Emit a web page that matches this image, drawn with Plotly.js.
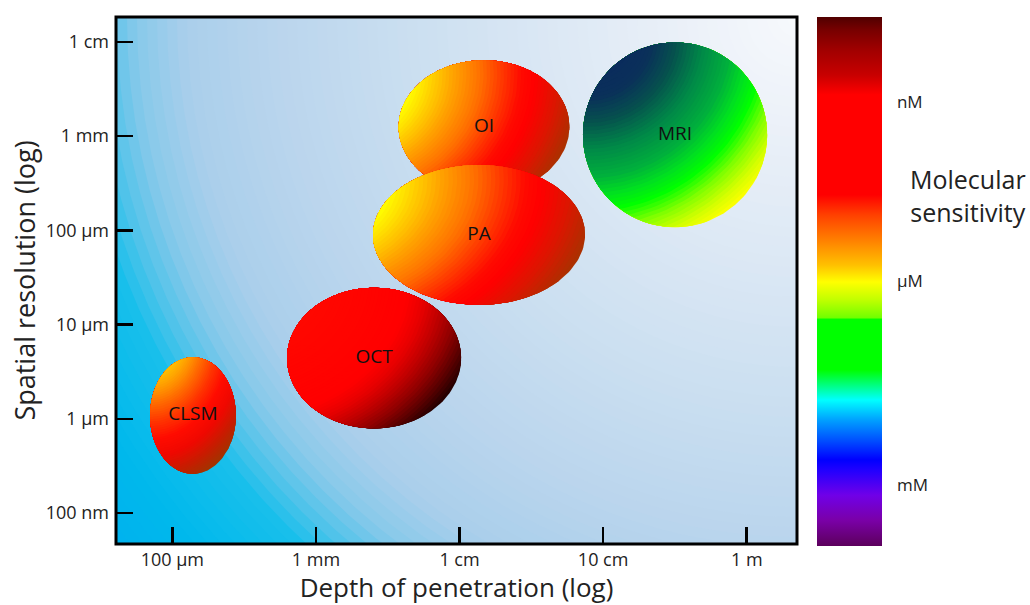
<!DOCTYPE html>
<html><head><meta charset="utf-8">
<script src="https://cdn.plot.ly/plotly-3.0.1.min.js"></script>
<style>html,body{margin:0;padding:0;background:#fff}#chart{width:1030px;height:605px}</style>
</head><body><div id="chart"></div>
<script>
// ---------------- data ----------------
const modality  = ['OI', 'PA', 'MRI', 'OCT', 'CLSM'];
// depth of penetration covered by each modality (metres)
const depthMin  = [3.77e-3, 2.50e-3, 7.24e-2, 6.30e-4, 7.00e-5];
const depthMax  = [5.83e-2, 7.48e-2, 1.387,   1.026e-2, 2.77e-4];
// spatial resolution covered by each modality (metres)
const resMin    = [2.45e-4, 1.62e-5, 1.08e-4, 7.90e-7, 2.60e-7];
const resMax    = [6.40e-3, 4.95e-4, 9.90e-3, 2.46e-5, 4.50e-6];

const depthTickVals = [1e-4, 1e-3, 1e-2, 1e-1, 1];
const depthTickText = ['100 µm', '1 mm', '1 cm', '10 cm', '1 m'];
const resTickVals   = [1e-7, 1e-6, 1e-5, 1e-4, 1e-3, 1e-2];
const resTickText   = ['100 nm', '1 µm', '10 µm', '100 µm', '1 mm', '1 cm'];

const sensLevels = [0.115, 0.5, 0.84];
const sensText   = ['mM', 'µM', 'nM'];

// ---------------- styles ----------------
const W = 1030, H = 605;
const M = {l: 116, r: 233, t: 17, b: 61};
const RX = [-4.392, 0.350], RY = [-7.329, -1.735];
const pxX = (W - M.l - M.r) / (RX[1] - RX[0]);
const pxY = (H - M.t - M.b) / (RY[1] - RY[0]);
const FONT = '"Open Sans", "DejaVu Sans", sans-serif';

const warm = [[0,'#ffff00'],[0.12,'#ffd000'],[0.25,'#ffa000'],[0.4,'#ff7000'],[0.52,'#ff3c00'],[0.64,'#ff0a00'],[0.72,'#ff0000'],[0.85,'#dd1500'],[1,'#a83200']];
const styles = {
  OI:   {f: [-2.0, 0.8], stops: warm},
  PA:   {f: [-2.0, 0.8], stops: warm},
  MRI:  {f: [-0.95, 1.1], stops: [[0,'#0a2c5c'],[0.12,'#0a305a'],[0.25,'#06504e'],[0.4,'#008848'],[0.55,'#00b03c'],[0.65,'#00e020'],[0.73,'#00ff00'],[0.83,'#80ff00'],[0.92,'#d0ff00'],[1,'#ffff00']]},
  OCT:  {f: [-1.6, 1.1], stops: [[0,'#ff0800'],[0.52,'#ff0000'],[0.62,'#e80000'],[0.72,'#c00000'],[0.82,'#900000'],[0.91,'#5a0000'],[1,'#200000']]},
  CLSM: {f: [-1.0, 1.5], stops: [[0,'#ffc000'],[0.12,'#ff9a00'],[0.25,'#ff6a00'],[0.4,'#ff3500'],[0.55,'#ff0c00'],[0.7,'#f00800'],[0.85,'#c81c00'],[1,'#a03500']]}
};
const bgStops = [[0,'#f7f9fc'],[120,'#eaf0f8'],[260,'#dae7f4'],[400,'#c9def0'],[520,'#bad5ed'],[610,'#aacfeb'],[660,'#88c9ea'],[695,'#50c3ea'],[725,'#18bfeb'],[800,'#00b9ec'],[900,'#00aeef']];

const cbScale = [[0,'#5c005c'],[0.049,'#7a00a8'],[0.096,'#7000e8'],[0.144,'#2000ff'],[0.163,'#0000ff'],[0.2,'#0050ff'],[0.238,'#00a0ff'],[0.276,'#00ffff'],[0.304,'#00ff80'],[0.333,'#00ff00'],[0.429,'#00ff00'],[0.431,'#70ff00'],[0.465,'#c0ff00'],[0.499,'#ffff00'],[0.531,'#ffc000'],[0.578,'#ff8000'],[0.626,'#ff4000'],[0.664,'#ff0000'],[0.853,'#ff0000'],[0.89,'#c80000'],[0.938,'#a00000'],[0.975,'#780000'],[1,'#500000']];

// ---------------- helpers ----------------
function hex2rgb(h){h=h.replace('#','');return [0,2,4].map(i=>parseInt(h.substr(i,2),16));}
function ramp(stops,t){
  if(t<=stops[0][0]) return 'rgb('+hex2rgb(stops[0][1]).join(',')+')';
  for(let i=1;i<stops.length;i++){
    if(t<=stops[i][0]){
      const a=hex2rgb(stops[i-1][1]), b=hex2rgb(stops[i][1]);
      const f=(t-stops[i-1][0])/(stops[i][0]-stops[i-1][0]);
      return 'rgb('+a.map((v,k)=>Math.round(v+(b[k]-v)*f)).join(',')+')';
    }
  }
  return 'rgb('+hex2rgb(stops[stops.length-1][1]).join(',')+')';
}
// intersection of unit disc with disc centred at (fx,fy), radius r (convex polygon)
function lens(fx,fy,r,n){
  const pts=[];
  for(let i=0;i<n;i++){
    const a=2*Math.PI*i/n, ux=Math.cos(a), uy=Math.sin(a);
    if((ux-fx)*(ux-fx)+(uy-fy)*(uy-fy)<=r*r) pts.push([ux,uy]);
    const dx=fx+r*ux, dy=fy+r*uy;
    if(dx*dx+dy*dy<=1) pts.push([dx,dy]);
  }
  const d=Math.hypot(fx,fy);
  if(d>0 && d<1+r && d>Math.abs(1-r)){
    const a=(1-r*r+d*d)/(2*d), h=Math.sqrt(Math.max(0,1-a*a)), ex=fx/d, ey=fy/d;
    pts.push([a*ex-h*ey, a*ey+h*ex]); pts.push([a*ex+h*ey, a*ey-h*ex]);
  }
  if(pts.length<3) return null;
  let cx=0,cy=0; pts.forEach(p=>{cx+=p[0];cy+=p[1];}); cx/=pts.length; cy/=pts.length;
  pts.sort((p,q)=>Math.atan2(p[1]-cy,p[0]-cx)-Math.atan2(q[1]-cy,q[0]-cx));
  pts.push(pts[0]);
  return pts;
}
function fillTrace(xs,ys,color){
  return {type:'scatter',mode:'lines',x:xs,y:ys,fill:'toself',fillcolor:color,
          line:{width:0,color:color},hoverinfo:'skip',showlegend:false};
}

const traces=[];
// background: concentric circles about the top-right corner of the plot
for(let R=900;R>0;R-=10){
  const xs=[],ys=[];
  for(let i=0;i<=120;i++){
    const a=2*Math.PI*i/120;
    xs.push(Math.pow(10,RX[1]+R*Math.cos(a)/pxX));
    ys.push(Math.pow(10,RY[1]+R*Math.sin(a)/pxY));
  }
  traces.push(fillTrace(xs,ys,ramp(bgStops,R-5)));
}

// modality ellipses with shaded gradients
const cxs=[],cys=[];
modality.forEach((name,i)=>{
  const lx0=Math.log10(depthMin[i]), lx1=Math.log10(depthMax[i]);
  const ly0=Math.log10(resMin[i]),   ly1=Math.log10(resMax[i]);
  const cx=(lx0+lx1)/2, cy=(ly0+ly1)/2, rx=(lx1-lx0)/2, ry=(ly1-ly0)/2;
  cxs.push(Math.pow(10,cx)); cys.push(Math.pow(10,cy));
  const st=styles[name], fx=st.f[0], fy=st.f[1], fd=Math.hypot(fx,fy);
  const dmin=Math.max(0,fd-1), dmax=fd+1, K=50;
  for(let k=0;k<K;k++){
    const t=1-k/K, r=dmin+t*(dmax-dmin);
    const poly=lens(fx,fy,r,180);
    if(!poly) continue;
    traces.push(fillTrace(poly.map(p=>Math.pow(10,cx+rx*p[0])), poly.map(p=>Math.pow(10,cy+ry*p[1])), ramp(st.stops,t-0.5/K)));
  }
});

// labels
traces.push({type:'scatter',mode:'text',x:cxs,y:cys,text:modality,textposition:'middle center',
  textfont:{family:FONT,size:19,color:'#111'},hoverinfo:'skip',showlegend:false,cliponaxis:false});

// colour bar carrier
traces.push({type:'scatter',mode:'markers',x:[cxs[0]],y:[cys[0]],hoverinfo:'skip',showlegend:false,
  marker:{size:1,opacity:0,color:[0.5],cmin:0,cmax:1,colorscale:cbScale,showscale:true,
    colorbar:{thickness:65,thicknessmode:'pixels',len:529,lenmode:'pixels',x:(817-M.l)/(W-M.l-M.r),xanchor:'left',xpad:0,
      y:-2/(H-M.t-M.b),yanchor:'bottom',ypad:0,outlinewidth:0,tickvals:sensLevels,ticktext:sensText,
      ticks:'outside',ticklen:12,tickcolor:'rgba(0,0,0,0)',tickfont:{family:FONT,size:17,color:'#222'}}}});

const layout={
  width:W,height:H,margin:M,paper_bgcolor:'#fff',plot_bgcolor:'#fff',showlegend:false,hovermode:false,
  font:{family:FONT,color:'#222'},
  xaxis:{type:'log',range:RX,tickvals:depthTickVals,ticktext:depthTickText,ticks:'inside',ticklen:17,tickwidth:2.5,tickcolor:'#000',
    showgrid:false,zeroline:false,showline:false,tickfont:{family:FONT,size:18,color:'#222'},ticklabelstandoff:3,
    title:{text:'Depth of penetration (log)',font:{family:FONT,size:26,color:'#222'},standoff:6},automargin:false,fixedrange:true},
  yaxis:{type:'log',range:RY,tickvals:resTickVals,ticktext:resTickText,ticks:'inside',ticklen:17,tickwidth:2.5,tickcolor:'#000',
    showgrid:false,zeroline:false,showline:false,tickfont:{family:FONT,size:18,color:'#222'},ticklabelstandoff:6,
    title:{text:'Spatial resolution (log)',font:{family:FONT,size:27,color:'#222'},standoff:2},automargin:false,fixedrange:true},
  shapes:[{type:'rect',xref:'paper',yref:'paper',x0:0,x1:1,y0:0,y1:1,line:{width:3,color:'#000'},layer:'above'}],
  annotations:[{xref:'paper',yref:'paper',x:(968-M.l)/(W-M.l-M.r),y:(H-M.b-195)/(H-M.t-M.b),xanchor:'center',yanchor:'middle',
    text:'Molecular<br>sensitivity',showarrow:false,font:{family:FONT,size:25,color:'#222'},align:'center'}]
};
Plotly.newPlot('chart',traces,layout,{staticPlot:true,displayModeBar:false});
</script></body></html>
